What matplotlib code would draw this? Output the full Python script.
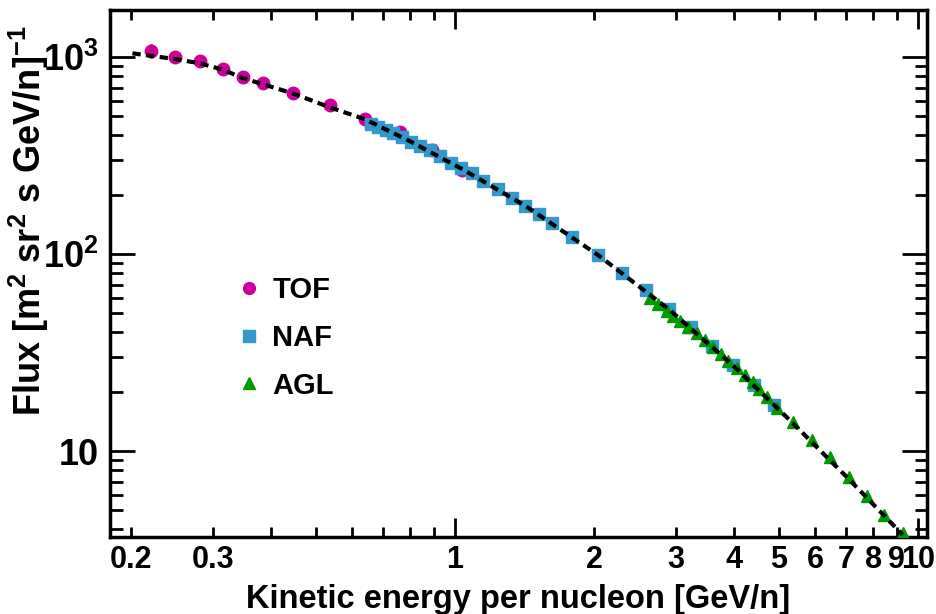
import numpy as np
import matplotlib
matplotlib.use("Agg")
import matplotlib.pyplot as plt
from matplotlib.lines import Line2D
from matplotlib.ticker import FixedLocator, FixedFormatter, NullFormatter

plt.rcParams['font.family'] = ['Liberation Sans', 'DejaVu Sans']
plt.rcParams['font.weight'] = 'bold'
plt.rcParams['mathtext.fontset'] = 'custom'
plt.rcParams['mathtext.rm'] = 'Liberation Sans:bold'
plt.rcParams['mathtext.it'] = 'Liberation Sans:bold'
plt.rcParams['mathtext.bf'] = 'Liberation Sans:bold'
plt.rcParams['mathtext.default'] = 'rm'

# TOF
tof_e = [0.221, 0.248, 0.281, 0.315, 0.349, 0.385, 0.446, 0.537, 0.639, 0.761, 0.891, 1.034]
tof_f = [1072, 1003, 954, 866, 795, 735, 659, 568, 486, 418, 337, 267]
tof_err = [0.08, 0.075, 0.07, 0.065, 0.06, 0.06, 0.055, 0.05, 0.05, 0.05, 0.05, 0.05]

# NAF
naf_e = [0.658, 0.683, 0.708, 0.736, 0.767, 0.802, 0.840, 0.883, 0.928, 0.979,
         1.030, 1.087, 1.149, 1.238, 1.328, 1.416, 1.519, 1.620, 1.789, 2.036,
         2.295, 2.586, 2.899, 3.234, 3.591, 3.991, 4.424, 4.887]
naf_f = [457, 440, 426, 410, 391, 372, 353, 337, 315, 291,
         272, 257, 236, 214, 192, 176, 160, 144, 122, 98.8,
         80.4, 65.3, 52.3, 42.4, 34.0, 27.2, 21.6, 17.2]

# AGL
agl_e = [2.637, 2.749, 2.866, 2.961, 3.062, 3.191, 3.327, 3.467, 3.599, 3.745,
         3.896, 4.055, 4.221, 4.391, 4.535, 4.719, 4.952, 5.357, 5.893, 6.441,
         7.078, 7.741, 8.443, 9.259]
agl_f = [59.6, 55.5, 51.6, 48.7, 45.9, 42.8, 39.6, 36.6, 33.7, 31.1,
         28.8, 26.5, 24.3, 22.4, 20.6, 18.8, 16.5, 14.0, 11.4, 9.27,
         7.38, 5.91, 4.73, 3.84]

# fit curve
fit_e = [0.201, 0.248, 0.281, 0.315, 0.349, 0.446, 0.537, 0.639, 0.802, 1.030,
         1.416, 2.036, 2.899, 3.984, 5.362, 7.096, 9.27]
fit_f = [1044, 977, 929, 862, 780, 654, 555, 483, 372, 272,
         176, 98.8, 52.3, 27.2, 13.87, 7.18, 3.75]

fig = plt.figure(figsize=(9.37, 6.14), dpi=100)
ax = fig.add_axes([110/937, 1-537/614, 817/937, 527/614])

tof_f = np.array(tof_f)
yerr = tof_f * np.array(tof_err)
ax.errorbar(tof_e, tof_f, yerr=yerr, fmt='o', color='#cc0099', ecolor='black',
            elinewidth=2, capsize=0, markersize=9, zorder=3)
ax.plot(naf_e, naf_f, 's', color='#3399cc', markersize=8.5, zorder=4)
ax.plot(agl_e, agl_f, '^', color='#009900', markersize=9, zorder=5)
ax.plot(fit_e, fit_f, color='black', lw=3.0, dashes=(2.0, 1.3), zorder=6)

ax.set_xscale('log')
ax.set_yscale('log')
ax.set_xlim(0.1798, 10.457)
ax.set_ylim(3.66, 1732)

ax.xaxis.set_major_locator(FixedLocator([1, 10]))
ax.xaxis.set_major_formatter(FixedFormatter(['1', '10']))
minors = [0.2, 0.3, 0.4, 0.5, 0.6, 0.7, 0.8, 0.9, 2, 3, 4, 5, 6, 7, 8, 9]
ax.xaxis.set_minor_locator(FixedLocator(minors))
ax.xaxis.set_minor_formatter(FixedFormatter(
    ['0.2', '0.3', '', '', '', '', '', '', '2', '3', '4', '5', '6', '7', '8', '9']))

ax.yaxis.set_major_locator(FixedLocator([10, 100, 1000]))
ax.yaxis.set_major_formatter(FixedFormatter(['10', r'$10^{2}$', r'$10^{3}$']))
ax.yaxis.set_minor_formatter(NullFormatter())

ax.tick_params(which='both', direction='in', top=True, right=True, width=2)
ax.tick_params(axis='x', which='major', length=14, labelsize=22, pad=6)
ax.tick_params(axis='x', which='minor', length=7, labelsize=22, pad=6)
ax.tick_params(axis='y', which='major', length=18, labelsize=26, pad=8)
ax.tick_params(axis='y', which='minor', length=9)
for s in ax.spines.values():
    s.set_linewidth(2.5)

ax.set_xlabel('Kinetic energy per nucleon [GeV/n]', fontsize=23.5, fontweight='bold', labelpad=6)
ax.set_ylabel(r'Flux [m$^{2}$ sr$^{2}$ s GeV/n]$^{-1}$', fontsize=26, fontweight='bold')
ax.yaxis.set_label_coords(-0.072, 0.60)

handles = [
    Line2D([], [], ls='none', marker='o', color='#cc0099', markersize=8.5),
    Line2D([], [], ls='none', marker='s', color='#3399cc', markersize=8),
    Line2D([], [], ls='none', marker='^', color='#009900', markersize=8.5),
]
ax.legend(handles, ['TOF', 'NAF', 'AGL'], loc='upper left', bbox_to_anchor=(0.12, 0.545),
          frameon=False, fontsize=21, handletextpad=0.3, labelspacing=0.68,
          handlelength=1.0)

fig.savefig('out.png', dpi=100)
